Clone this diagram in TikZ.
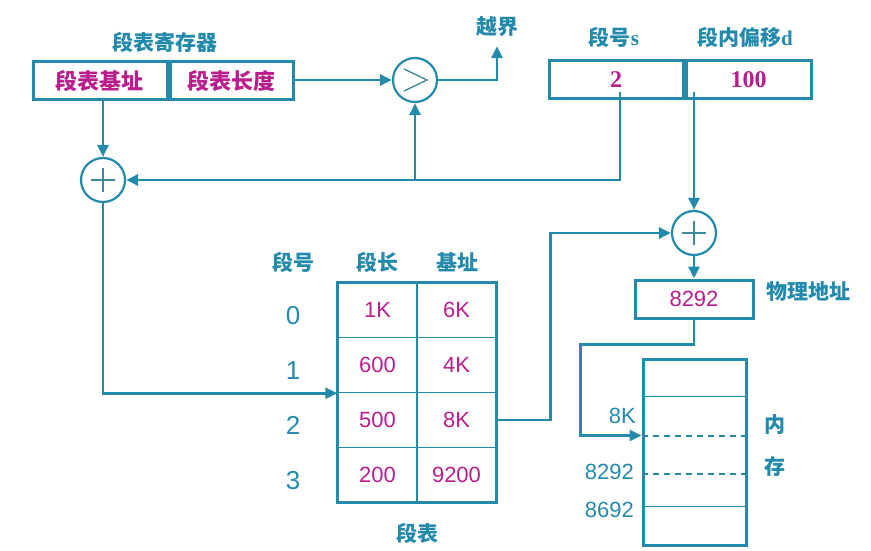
\documentclass[tikz,border=0pt]{standalone}
\usepackage{fontspec}
\setmainfont{Liberation Sans}
\newfontfamily\cjk{Noto Sans CJK SC}
\newfontfamily\seriffont{Liberation Serif}
\usetikzlibrary{arrows.meta, positioning, calc}
\definecolor{segteal}{RGB}{35,138,172}
\definecolor{segpink}{RGB}{185,30,140}

\begin{document}
\begin{tikzpicture}[x=1pt, y=-1pt,
  cell/.style={draw=segteal, line width=3pt, minimum height=38pt, inner sep=0pt, text=segpink},
  title/.style={text=segteal, font=\cjk\bfseries\fontsize{21}{24}\selectfont, inner sep=1pt},
  tcell/.style={draw=segteal, line width=1.4pt, minimum width=79pt, minimum height=54.75pt, inner sep=0pt, text=segpink, font=\fontsize{22}{24}\selectfont},
  rowno/.style={text=segteal, font=\fontsize{26}{28}\selectfont, inner sep=1pt},
  addr/.style={text=segteal, font=\fontsize{22}{24}\selectfont, inner sep=1pt, anchor=east},
  op/.style={circle, draw=segteal, line width=2.2pt, minimum size=44pt, inner sep=0pt, fill=white},
  plus/.style={op, path picture={\draw[segteal!70!gray, line width=1.4pt]
    ([xshift=-12pt]path picture bounding box.center) -- ([xshift=12pt]path picture bounding box.center)
    ([yshift=-12pt]path picture bounding box.center) -- ([yshift=12pt]path picture bounding box.center);}},
  greater/.style={op, path picture={\draw[segteal!70!gray, line width=1.3pt]
    ([shift={(-11pt,11pt)}]path picture bounding box.center) -- ([xshift=12pt]path picture bounding box.center)
    -- ([shift={(-11pt,-11pt)}]path picture bounding box.center);}},
  arr/.style={draw=segteal, line width=2.8pt, -{Triangle[length=12pt,width=11pt]}}
]
  \useasboundingbox (0,0) rectangle (871,551);

  \node[title] (regtitle) at (165,42) {段表寄存器};
  \node[cell, minimum width=134pt, font=\cjk\bfseries\fontsize{22}{24}\selectfont] (regbase) at (100,81) {段表基址};
  \node[cell, minimum width=123pt, anchor=west, font=\cjk\bfseries\fontsize{22}{24}\selectfont] (reglen) at (regbase.east) {段表长度};

  \node[greater] (cmp) at (415,80) {};
  \node[title] (overflow) at (497,27) {越界};

  \node[title] (segnotitle) at (614,37) {段号{\seriffont\bfseries s}};
  \node[title] (offtitle) at (745,37) {段内偏移{\seriffont\bfseries d}};
  \node[cell, minimum width=134pt, font=\seriffont\bfseries\fontsize{24}{24}\selectfont] (segnum) at (616,80) {2};
  \node[cell, minimum width=125pt, anchor=west, font=\seriffont\bfseries\fontsize{24}{24}\selectfont] (offset) at (segnum.east) {100};
  \coordinate (segtap) at ([shift={(4pt,-12pt)}]segnum.center);
  \coordinate (offtap) at ([yshift=-12pt]offset.center);

  \node[plus] (add1) at (103,180) {};
  \node[plus] (add2) at (694,233) {};

  \node[title] (hdno) at (293,262) {段号};
  \node[title] (hdlen) at (377,262) {段长};
  \node[title] (hdbase) at (457,262) {基址};
  \foreach \len/\base [count=\i from 0] in {1K/6K, 600/4K, 500/8K, 200/9200} {
    \node[tcell] (len\i) at (377.5, 310.4+54.75*\i) {\len};
    \node[tcell] (base\i) at (456.5, 310.4+54.75*\i) {\base};
    \node[rowno] (row\i) at (293, 316+54.75*\i) {\i};
  }
  \draw[segteal, line width=3pt] (len0.north west) rectangle (base3.south east);
  \node[title] (tabtitle) at (417,533) {段表};

  \node[cell, minimum width=118pt, font=\fontsize{22}{24}\selectfont] (phys) at (694,299) {8292};
  \node[title, anchor=west] (phystitle) at (765,292) {物理地址};

  \node[draw=segteal, line width=3pt, minimum width=103pt, minimum height=186pt] (mem) at (694.5,452) {};
  \draw[segteal, line width=1.4pt] ([yshift=-39pt]mem.north west) -- ([yshift=-39pt]mem.north east)
    ([yshift=-149pt]mem.north west) -- ([yshift=-149pt]mem.north east);
  \draw[segteal, line width=2pt, dash pattern=on 6pt off 5pt] ([yshift=-78pt]mem.north west) -- ([yshift=-78pt]mem.north east)
    ([yshift=-116pt]mem.north west) -- ([yshift=-116pt]mem.north east);
  \coordinate (mem8k) at ([yshift=-78pt]mem.north west);
  \node[addr] (lab8k) at (637,416) {8K};
  \node[addr] (lab8292) at (635,472) {8292};
  \node[addr] (lab8692) at (635,510) {8692};
  \node[title] (memtitle1) at (775,425) {内};
  \node[title] (memtitle2) at (775,467) {存};

  \draw[arr] (reglen.east |- cmp.west) -- (cmp.west);
  \draw[arr] (cmp.east) -| ([yshift=-8pt]overflow.south);
  \draw[arr] (regbase.south -| add1.north) -- (add1.north);
  \draw[arr] (segtap) |- (add1.east);
  \draw[arr] (cmp.south |- add1.east) -- (cmp.south);
  \draw[arr] (add1.south) |- (len1.south west);
  \draw[arr] (offtap -| add2.north) -- (add2.north);
  \draw[arr] (base2.east) -- ++(54,0) |- (add2.west);
  \draw[arr] (add2.south) -- (phys.north);
  \draw[arr] (phys.south) -- ++(0,25) -| ([xshift=-61pt]mem8k) -- (mem8k);
\end{tikzpicture}
\end{document}
